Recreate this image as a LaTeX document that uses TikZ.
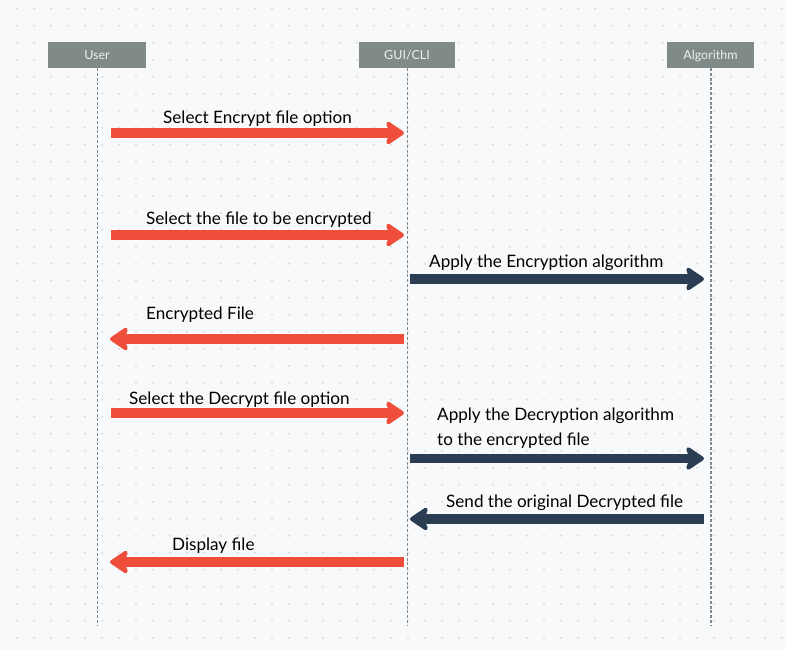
\documentclass[tikz,border=0pt]{standalone}
\usepackage{fontspec}
\setmainfont{Lato}
\usetikzlibrary{arrows.meta}
\definecolor{bg}{HTML}{F8F9FB}
\definecolor{dotc}{HTML}{D8DCE0}
\definecolor{hdr}{HTML}{7F8A89}
\definecolor{hdrtxt}{HTML}{EEF1F1}
\definecolor{lifec}{HTML}{7F8A8C}
\definecolor{redc}{HTML}{EF4E3B}
\definecolor{darkc}{HTML}{2B3D52}
\tikzset{
  hdrbox/.style={fill=hdr, draw=none},
  hdrlbl/.style={text=hdrtxt, inner sep=0pt, font=\fontsize{12.5}{14}\selectfont},
  lifeline/.style={draw=lifec, line width=1.3pt, dash pattern=on 3pt off 1.8pt},
  msg/.style={line width=9.5pt, -{Stealth[length=21pt, width=28pt, inset=5pt, round]}},
  redmsg/.style={msg, draw=redc},
  darkmsg/.style={msg, draw=darkc},
  lbl/.style={anchor=base west, inner sep=0pt, text=black, font=\fontsize{17.1}{21}\selectfont}
}
\begin{document}
\begin{tikzpicture}[x=1pt, y=-1pt]
\fill[bg] (0,0) rectangle (786,650);
\useasboundingbox (0,0) rectangle (786,650);
\foreach \i in {1,...,46} {
  \foreach \j in {0,...,37} {
    \fill[dotc] (17*\i, 8.7+17*\j) circle (1.1pt);
  }
}
% headers
\path[hdrbox] (48,42) rectangle (146,68);
\path[hdrbox] (359,42) rectangle (455,68);
\path[hdrbox] (667,42) rectangle (754,68);
\node[hdrlbl, anchor=base] (hu) at (97,60) {User};
\node[hdrlbl, anchor=base] (hg) at (407,60) {GUI/CLI};
\node[hdrlbl, anchor=base] (ha) at (710.5,60) {Algorithm};
% lifelines
\coordinate (uT) at (97.3,68);  \coordinate (uB) at (97.3,625);
\coordinate (gT) at (407.3,68); \coordinate (gB) at (407.3,625);
\coordinate (aT) at (711,68);   \coordinate (aB) at (711,625);
\draw[lifeline] (uT) -- (uB);
\draw[lifeline] (gT) -- (gB);
\draw[lifeline] (aT) -- (aB);
% message endpoints
\coordinate (u1) at (111,133);  \coordinate (g1) at (404,133);
\coordinate (u2) at (111,235);  \coordinate (g2) at (404,235);
\coordinate (g3) at (410,279);  \coordinate (a3) at (704,279);
\coordinate (g4) at (404,339);  \coordinate (u4) at (110,339);
\coordinate (u5) at (111,413);  \coordinate (g5) at (404,413);
\coordinate (g6) at (410,458.5);\coordinate (a6) at (704,458.5);
\coordinate (a7) at (704,519);  \coordinate (g7) at (410,519);
\coordinate (g8) at (404,562);  \coordinate (u8) at (110,562);
\draw[redmsg] (u1) -- (g1);
\draw[redmsg] (u2) -- (g2);
\draw[darkmsg] (g3) -- (a3);
\draw[redmsg] (g4) -- (u4);
\draw[redmsg] (u5) -- (g5);
\draw[darkmsg] (g6) -- (a6);
\draw[darkmsg] (a7) -- (g7);
\draw[redmsg] (g8) -- (u8);
% labels
\node[lbl] (l1) at (163,123) {Select Encrypt file option};
\node[lbl] (l2) at (146,224.5) {Select the file to be encrypted};
\node[lbl] (l3) at (429,267) {Apply the Encryption algorithm};
\node[lbl] (l4) at (146,319) {Encrypted File};
\node[lbl] (l5) at (129,404) {Select the Decrypt file option};
\node[lbl] (l6a) at (437,420.7) {Apply the Decryption algorithm};
\node[lbl] (l6b) at (437,445) {to the encrypted file};
\node[lbl] (l7) at (446,507.3) {Send the original Decrypted file};
\node[lbl] (l8) at (172,550) {Display file};
\end{tikzpicture}
\end{document}
